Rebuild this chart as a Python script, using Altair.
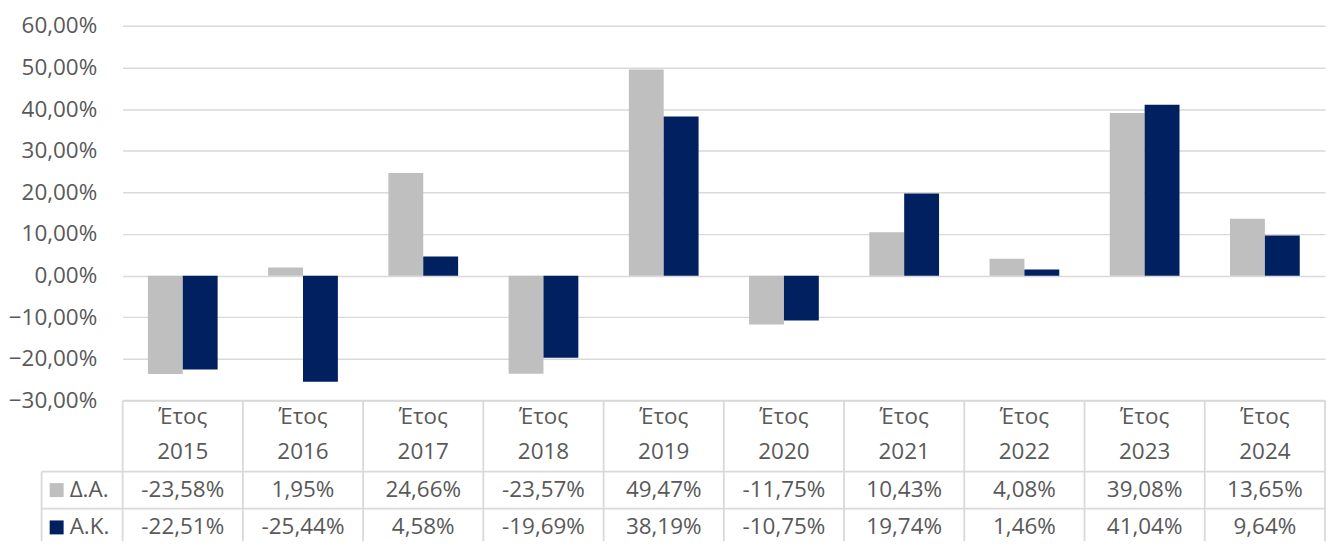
import altair as alt
import pandas as pd

# ---- data ----
years = ["2015", "2016", "2017", "2018", "2019", "2020", "2021", "2022", "2023", "2024"]
series_names = ["Δ.Α.", "Α.Κ."]
da_values = [-23.58, 1.95, 24.66, -23.57, 49.47, -11.75, 10.43, 4.08, 39.08, 13.65]
ak_values = [-22.51, -25.44, 4.58, -19.69, 38.19, -10.75, 19.74, 1.46, 41.04, 9.64]
y_ticks = [-30, -20, -10, 0, 10, 20, 30, 40, 50, 60]
colors = ["#bfbfbf", "#002060"]

FONT = "Open Sans"
FS = 22.5
TXT = "#595959"
GRID = "#d9d9d9"
W, H = 1206, 376
TH = 141
UNIT = 36.34

def fmt(v):
    return f"{v:.2f}".replace(".", ",") + "%"

rows = []
for y, a, b in zip(years, da_values, ak_values):
    rows.append({"cat": "Έτος " + y, "series": series_names[0], "value": a})
    rows.append({"cat": "Έτος " + y, "series": series_names[1], "value": b})
df = pd.DataFrame(rows)
cats = ["Έτος " + y for y in years]

bars = alt.Chart(df).mark_bar().encode(
    x=alt.X("cat:N", sort=cats, axis=None,
            scale=alt.Scale(paddingInner=0.42, paddingOuter=0.21)),
    xOffset=alt.XOffset("series:N", sort=series_names,
                        scale=alt.Scale(paddingInner=0, paddingOuter=0)),
    y=alt.Y("value:Q", title=None,
            scale=alt.Scale(domain=[-30, 60], nice=False, zero=False),
            axis=alt.Axis(values=y_ticks, grid=True, gridColor=GRID, gridWidth=1.5,
                          domain=False, ticks=False, labelFont=FONT, labelFontSize=FS,
                          labelColor=TXT, labelPadding=26,
                          labelExpr="replace(format(datum.value, '.2f'), '.', ',') + '%'")),
    color=alt.Color("series:N", scale=alt.Scale(domain=series_names, range=colors), legend=None),
).properties(width=W, height=H)

# ---- data table below ----
LEG_X = -0.674
YMAX = TH / UNIT
cells = []
for i, y in enumerate(years):
    cells.append({"cx": i + 0.5, "ry": 0.44, "t": "Έτος"})
    cells.append({"cx": i + 0.5, "ry": 1.43, "t": y})
    cells.append({"cx": i + 0.5, "ry": 2.47, "t": fmt(da_values[i])})
    cells.append({"cx": i + 0.5, "ry": 3.5, "t": fmt(ak_values[i])})
cells_df = pd.DataFrame(cells)

xs = alt.Scale(domain=[0, 10], nice=False, zero=False)
ys = alt.Scale(domain=[0, YMAX], nice=False, zero=False, reverse=True)

lines = [{"x": 0, "x2": 10, "y": 0, "y2": 0},
         {"x": LEG_X, "x2": 10, "y": 1.96, "y2": 1.96},
         {"x": LEG_X, "x2": 10, "y": 2.98, "y2": 2.98},
         {"x": LEG_X, "x2": LEG_X, "y": 1.96, "y2": YMAX}]
for k in range(11):
    lines.append({"x": k, "x2": k, "y": 0, "y2": YMAX})
lines_df = pd.DataFrame(lines)

rules = alt.Chart(lines_df).mark_rule(color=GRID, strokeWidth=1.8).encode(
    x=alt.X("x:Q", scale=xs, axis=None), x2="x2:Q",
    y=alt.Y("y:Q", scale=ys, axis=None), y2="y2:Q")

texts = alt.Chart(cells_df).mark_text(font=FONT, fontSize=FS, color=TXT, align="center",
                                      baseline="middle").encode(
    x=alt.X("cx:Q", scale=xs, axis=None),
    y=alt.Y("ry:Q", scale=ys, axis=None),
    text="t:N")

leg_df = pd.DataFrame({"series": series_names, "ry": [2.47, 3.5],
                       "sx": [-0.549, -0.549], "tx": [-0.441, -0.441]})
swatches = alt.Chart(leg_df).mark_square(size=196, opacity=1).encode(
    x=alt.X("sx:Q", scale=xs, axis=None),
    y=alt.Y("ry:Q", scale=ys, axis=None),
    color=alt.Color("series:N", scale=alt.Scale(domain=series_names, range=colors), legend=None))
leg_text = alt.Chart(leg_df).mark_text(font=FONT, fontSize=FS, color=TXT, align="left",
                                       baseline="middle").encode(
    x=alt.X("tx:Q", scale=xs, axis=None),
    y=alt.Y("ry:Q", scale=ys, axis=None),
    text="series:N")

table = alt.layer(rules, texts, swatches, leg_text).properties(width=W, height=TH)

chart = alt.vconcat(bars, table, spacing=0, bounds="flush").resolve_scale(
    color="independent"
).configure_view(stroke=None).properties(
    padding={"left": 0, "top": 6, "right": 0, "bottom": 0}, background="white")

chart.save("out.html", embed_options={"renderer": "svg", "actions": False})
